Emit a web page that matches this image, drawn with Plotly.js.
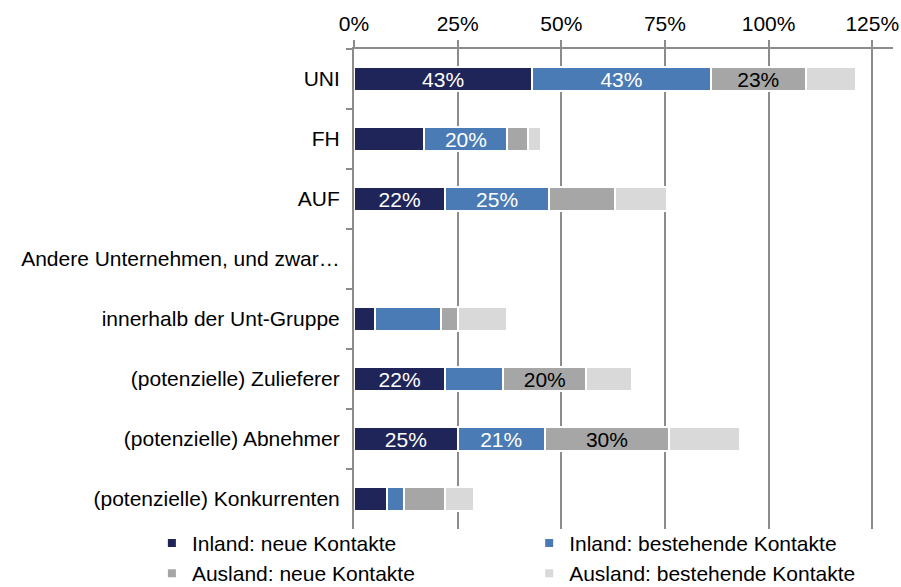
<!DOCTYPE html>
<html>
<head>
<meta charset="utf-8">
<script src="https://cdn.plot.ly/plotly-3.0.1.min.js"></script>
<style>
html,body{margin:0;padding:0;background:#fff;}
#chart{width:901px;height:587px;}
</style>
</head>
<body>
<div id="chart"></div>
<script>
var categories = ['UNI', 'FH', 'AUF', 'Andere Unternehmen, und zwar…', 'innerhalb der Unt-Gruppe', '(potenzielle) Zulieferer', '(potenzielle) Abnehmer', '(potenzielle) Konkurrenten'];
var seriesNames = ['Inland: neue Kontakte', 'Inland: bestehende Kontakte', 'Ausland: neue Kontakte', 'Ausland: bestehende Kontakte'];
var inlandNeu = [43, 17, 22, null, 5, 22, 25, 8];
var inlandBestehend = [43, 20, 25, null, 16, 14, 21, 4];
var auslandNeu = [23, 5, 16, null, 4, 20, 30, 10];
var auslandBestehend = [12, 3, 12.5, null, 12, 11, 17, 7];
var tickValues = [0, 25, 50, 75, 100, 125];
var tickLabels = ['0%', '25%', '50%', '75%', '100%', '125%'];

var colors = ['#1f2558', '#4a7bb5', '#a6a6a6', '#d9d9d9'];
var textColors = ['#ffffff', '#ffffff', '#000000', '#000000'];
var FONT = 'Liberation Sans, Arial, sans-serif';
var allSeries = [inlandNeu, inlandBestehend, auslandNeu, auslandBestehend];
var legendIds = ['legend', 'legend2', 'legend', 'legend2'];

var traces = [];
allSeries.forEach(function (vals, i) {
  traces.push({
    type: 'bar',
    orientation: 'h',
    y: categories,
    x: vals,
    name: seriesNames[i],
    marker: {color: colors[i], line: {color: '#ffffff', width: 2}},
    text: vals.map(function (v) { return (v !== null && v >= 19.5) ? Math.round(v) + '%' : ''; }),
    textposition: 'inside',
    insidetextanchor: 'middle',
    constraintext: 'none',
    textfont: {family: FONT, size: 21, color: textColors[i]},
    hoverinfo: 'skip',
    showlegend: false
  });
});
// legend entries
allSeries.forEach(function (vals, i) {
  traces.push({
    type: 'scatter',
    mode: 'markers',
    x: [null],
    y: [null],
    name: seriesNames[i],
    marker: {symbol: 'square', size: 8, color: colors[i]},
    legend: legendIds[i],
    legendgroup: 'g' + i,
    showlegend: true,
    hoverinfo: 'skip'
  });
});

var gridCol = '#8c8c8c';
var layout = {
  width: 901,
  height: 587,
  margin: {l: 354, r: 8, t: 49, b: 58, pad: 0, autoexpand: false},
  paper_bgcolor: '#ffffff',
  plot_bgcolor: '#ffffff',
  barmode: 'stack',
  bargap: 0.6,
  font: {family: FONT, size: 21, color: '#000000'},
  showlegend: true,
  xaxis: {
    side: 'top',
    range: [0, 130],
    tickvals: tickValues,
    ticktext: tickLabels,
    showgrid: true,
    gridcolor: gridCol,
    gridwidth: 2,
    showline: true,
    linecolor: gridCol,
    linewidth: 2,
    ticks: 'outside',
    ticklen: 7,
    tickwidth: 2,
    tickcolor: gridCol,
    ticklabelstandoff: 1,
    zeroline: false,
    tickfont: {family: FONT, size: 21, color: '#000000'},
    fixedrange: true
  },
  yaxis: {
    type: 'category',
    autorange: 'reversed',
    showgrid: false,
    showline: true,
    linecolor: gridCol,
    linewidth: 2,
    ticks: 'outside',
    tickson: 'boundaries',
    ticklen: 6,
    tickwidth: 2,
    tickcolor: gridCol,
    ticklabelstandoff: 8,
    zeroline: false,
    tickfont: {family: FONT, size: 21, color: '#000000'},
    fixedrange: true
  },
  legend: {
    orientation: 'v',
    x: -0.375,
    xanchor: 'left',
    y: 0.013,
    yanchor: 'top',
    itemwidth: 30,
    tracegroupgap: 0,
    font: {family: FONT, size: 21, color: '#000000'},
    bgcolor: 'rgba(0,0,0,0)',
    borderwidth: 0
  },
  legend2: {
    orientation: 'v',
    x: 0.325,
    xanchor: 'left',
    y: 0.013,
    yanchor: 'top',
    itemwidth: 30,
    tracegroupgap: 0,
    font: {family: FONT, size: 21, color: '#000000'},
    bgcolor: 'rgba(0,0,0,0)',
    borderwidth: 0
  }
};

Plotly.newPlot('chart', traces, layout, {displayModeBar: false, staticPlot: true});
</script>
</body>
</html>
